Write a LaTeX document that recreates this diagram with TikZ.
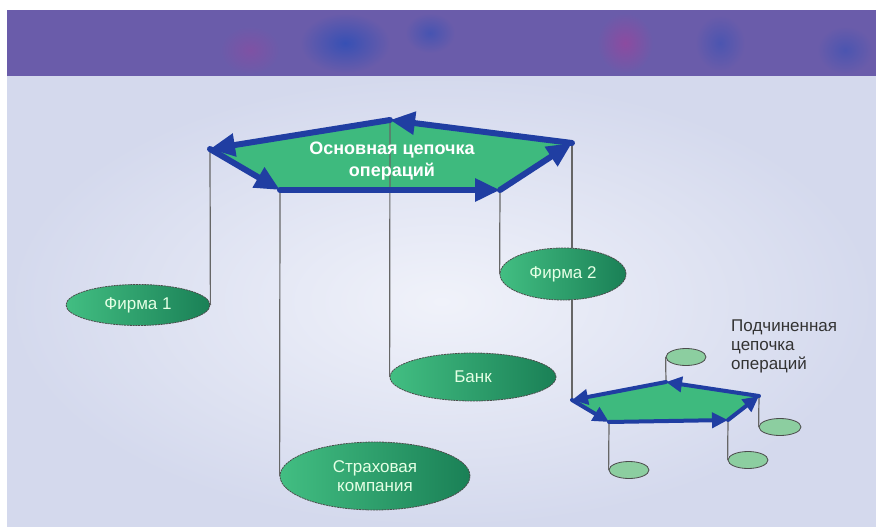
\documentclass[tikz,border=0pt]{standalone}
\usepackage{fontspec}
\setmainfont{Liberation Sans}
\usetikzlibrary{shapes.geometric,arrows.meta}
\definecolor{chain}{RGB}{62,186,126}
\definecolor{chainblue}{RGB}{32,62,162}
\definecolor{banner}{RGB}{106,92,170}
\definecolor{bannerblue}{RGB}{55,80,180}
\definecolor{bannerpink}{RGB}{140,75,160}
\definecolor{field}{RGB}{212,217,237}
\definecolor{fieldlight}{RGB}{240,242,250}
\definecolor{firmlight}{RGB}{66,190,130}
\definecolor{firmdark}{RGB}{26,128,86}
\definecolor{smallgreen}{RGB}{140,206,160}

\begin{document}
\begin{tikzpicture}
[x=1pt, y=-1pt,
firm/.style={ellipse, inner sep=0pt, left color=firmlight, right color=firmdark, draw=black!70, dash pattern=on 2pt off 0.8pt, line width=0.8pt, text=white!90!green, font=\fontsize{17}{19}\selectfont, align=center},
small/.style={ellipse, inner sep=0pt, minimum width=40pt, minimum height=17pt, fill=smallgreen, draw=black!70, line width=0.8pt},
link/.style={black!60, line width=1.2pt},
haze/.style={outer color=banner},
big arrow/.style={chainblue, line width=6pt, line cap=round, -{Triangle[length=25pt,width=22pt]}},
small arrow/.style={chainblue, line width=4pt, line cap=round, -{Triangle[length=16pt,width=15pt]}}]
\useasboundingbox (0,0) rectangle (876,527);
\fill[white] (0,0) rectangle (876,527);
\shade[inner color=fieldlight, outer color=field] (7,76) rectangle (876,527);
\fill[banner] (7,10) rectangle (876,76);
\shade[haze, inner color=bannerblue] (345,43) ellipse (45 and 30);
\shade[haze, inner color=bannerblue!70!banner] (430,33) ellipse (25 and 20);
\shade[haze, inner color=bannerpink] (625,43) ellipse (28 and 30);
\shade[haze, inner color=bannerpink!60!banner] (250,50) ellipse (30 and 24);
\shade[haze, inner color=bannerblue!60!banner] (720,43) ellipse (25 and 28);
\shade[haze, inner color=bannerblue!60!banner] (845,50) ellipse (28 and 24);

\coordinate (hl) at (210,149);
\coordinate (ht) at (390,120);
\coordinate (hr) at (572,143);
\coordinate (hbr) at (500,190);
\coordinate (hbl) at (280,190);
\coordinate (sl) at (572,400);
\coordinate (st) at (666,382);
\coordinate (sr) at (759,396);
\coordinate (sbr) at (728,420);
\coordinate (sbl) at (609,422);

\fill[chain] (hl) -- (ht) -- (hr) -- (hbr) -- (hbl) -- cycle;
\fill[chain] (sl) -- (st) -- (sr) -- (sbr) -- (sbl) -- cycle;

\node[firm, minimum width=144pt, minimum height=41pt] (firm1) at (138,305) {Фирма 1};
\node[firm, minimum width=126pt, minimum height=52pt] (firm2) at (563,274) {Фирма 2};
\node[firm, minimum width=166pt, minimum height=48pt] (bank) at (473,377) {Банк};
\node[firm, minimum width=190pt, minimum height=68pt] (insurer) at (375,476) {Страховая\\компания};
\node[small] (sub1) at (686,357) {};
\node[small, minimum width=42pt] (sub2) at (780,427) {};
\node[small] (sub3) at (748,460) {};
\node[small] (sub4) at (629,470) {};

\draw[link] (hl) -- (firm1.east);
\draw[link] (hbl) -- (insurer.west);
\draw[link] (ht) -- (bank.west);
\draw[link] (hbr) -- (firm2.west);
\draw[link] (hr) -- (firm2.north -| hr);
\draw[link] (firm2.south -| hr) -- (sl);
\draw[link] (st) -- (sub1.west);
\draw[link] (sr) -- (sub2.west);
\draw[link] (sbr) -- (sub3.west);
\draw[link] (sbl) -- (sub4.west);

\draw[big arrow] (ht) -- (hl);
\draw[big arrow] (hl) -- (hbl);
\draw[big arrow] (hbl) -- (hbr);
\draw[big arrow] (hbr) -- (hr);
\draw[big arrow] (hr) -- (ht);
\draw[small arrow] (st) -- (sl);
\draw[small arrow] (sl) -- (sbl);
\draw[small arrow] (sbl) -- (sbr);
\draw[small arrow] (sbr) -- (sr);
\draw[small arrow] (sr) -- (st);

\node[text=white, font=\bfseries\fontsize{18}{22}\selectfont, align=center] (mainlabel) at (392,161) {Основная цепочка\\операций};
\node[anchor=north west, align=left, inner sep=0pt, text=black!80, font=\fontsize{17}{19}\selectfont] (sublabel) at (731,320) {Подчиненная\\цепочка\\операций};
\end{tikzpicture}
\end{document}
